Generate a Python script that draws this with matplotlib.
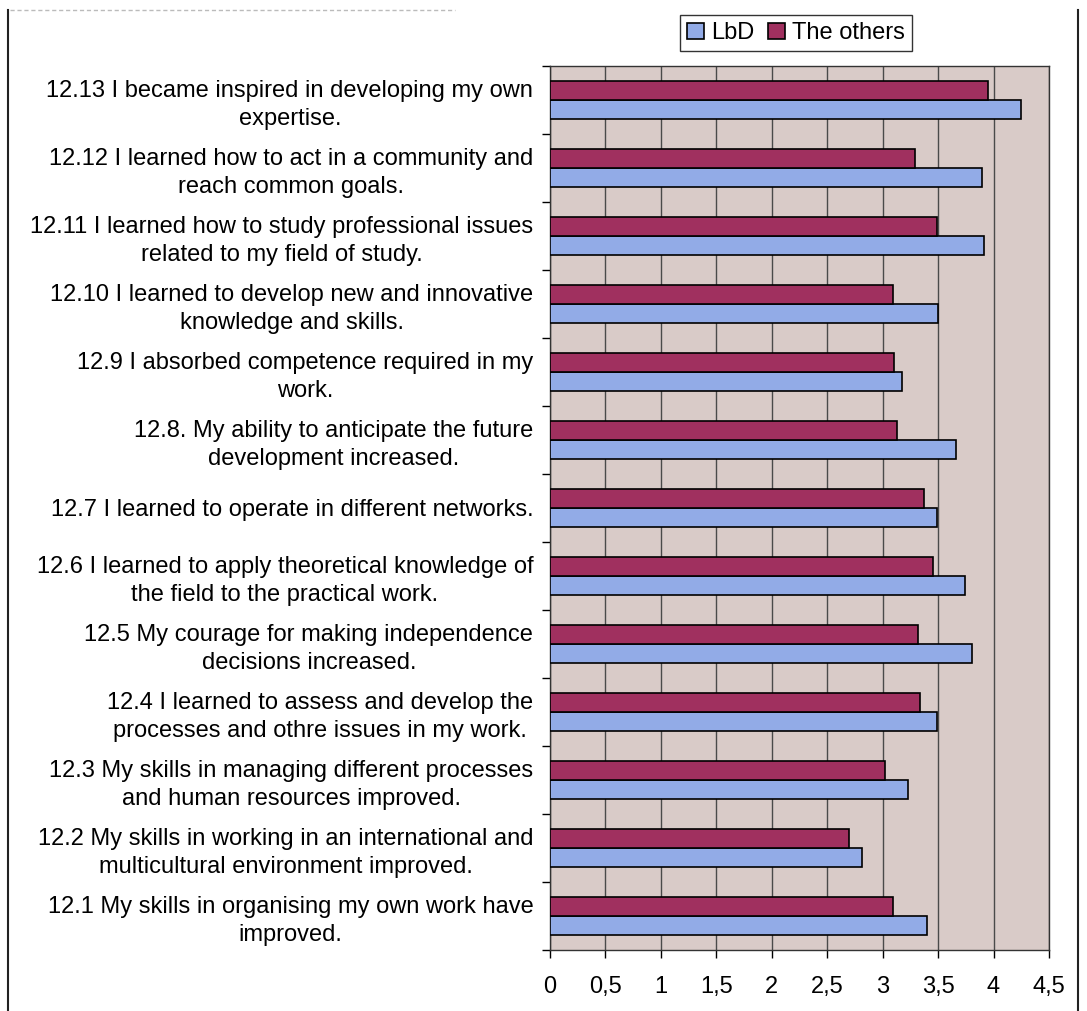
import numpy as np
import matplotlib
matplotlib.use("Agg")
import matplotlib.pyplot as plt
from matplotlib.lines import Line2D

plt.rcParams['font.family'] = ['Liberation Sans', 'DejaVu Sans']

labels = [
    "12.1 My skills in organising my own work have\nimproved.",
    "12.2 My skills in working in an international and\nmulticultural environment improved.",
    "12.3 My skills in managing different processes\nand human resources improved.",
    "12.4 I learned to assess and develop the\nprocesses and othre issues in my work.",
    "12.5 My courage for making independence\ndecisions increased.",
    "12.6 I learned to apply theoretical knowledge of\nthe field to the practical work.",
    "12.7 I learned to operate in different networks.",
    "12.8. My ability to anticipate the future\ndevelopment increased.",
    "12.9 I absorbed competence required in my\nwork.",
    "12.10 I learned to develop new and innovative\nknowledge and skills.",
    "12.11 I learned how to study professional issues\nrelated to my field of study.",
    "12.12 I learned how to act in a community and\nreach common goals.",
    "12.13 I became inspired in developing my own\nexpertise.",
]
lbd = [3.40, 2.81, 3.23, 3.49, 3.81, 3.74, 3.49, 3.66, 3.17, 3.50, 3.91, 3.90, 4.25]
others = [3.09, 2.70, 3.02, 3.34, 3.32, 3.45, 3.37, 3.13, 3.10, 3.09, 3.49, 3.29, 3.95]
xticks = [0, 0.5, 1, 1.5, 2, 2.5, 3, 3.5, 4, 4.5]
xticklabels = ["0", "0,5", "1", "1,5", "2", "2,5", "3", "3,5", "4", "4,5"]

blue = "#92abe7"
maroon = "#a0305f"
fs = 17

fig = plt.figure(figsize=(10.87, 10.11), dpi=100)
ax = fig.add_axes([550/1087, 61/1011, 499/1087, 884/1011])
ax.set_facecolor("#d9cbc8")

y = np.arange(len(labels))
h = 0.28
ax.barh(y - h/2, lbd, height=h, color=blue, edgecolor="black", linewidth=1.2, label="LbD", zorder=3)
ax.barh(y + h/2, others, height=h, color=maroon, edgecolor="black", linewidth=1.2, label="The others", zorder=3)

ax.set_xlim(0, 4.5)
ax.set_ylim(-0.5, len(labels) - 0.5)
ax.set_xticks(xticks)
ax.set_xticklabels(xticklabels, fontsize=fs)
ax.set_yticks(y)
ax.set_yticklabels(labels, fontsize=fs, multialignment="center", linespacing=1.3)
ax.set_yticks(np.arange(len(labels) + 1) - 0.5, minor=True)
ax.tick_params(axis="y", which="major", length=0, pad=12)
ax.tick_params(axis="y", which="minor", length=6, width=1, direction="out")
ax.tick_params(axis="x", length=6, width=1, direction="out", pad=13)
ax.grid(axis="x", color="#4a4a4a", linewidth=1, zorder=1)
for s in ax.spines.values():
    s.set_color("#333333")
    s.set_linewidth(1)

ax.legend(loc="upper left", bbox_to_anchor=(680/1087, 1 - 15/1011), bbox_transform=fig.transFigure,
          ncol=2, fontsize=fs, frameon=True, fancybox=False, edgecolor="#333333", framealpha=1,
          handlelength=0.7, handleheight=0.7, handletextpad=0.3, columnspacing=0.6, borderpad=0.3,
          borderaxespad=0)

# page frame lines
fig.add_artist(Line2D([8/1087, 8/1087], [0, 1 - 10/1011], color="#222222", lw=1.5))
fig.add_artist(Line2D([1078/1087, 1078/1087], [0, 1 - 10/1011], color="#222222", lw=1.5))
fig.add_artist(Line2D([10/1087, 455/1087], [1 - 10/1011, 1 - 10/1011], color="#bbbbbb", lw=1, ls=(0, (3, 2))))

fig.savefig("out.png", dpi=100)
